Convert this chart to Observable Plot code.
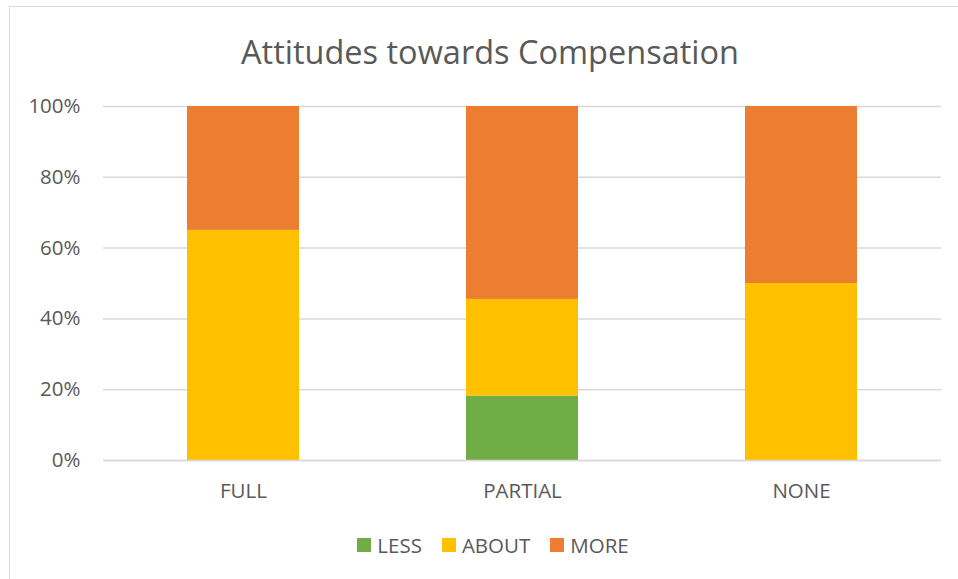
<!DOCTYPE html>
<html>
<head>
<meta charset="utf-8">
<script src="https://cdn.jsdelivr.net/npm/d3@7"></script>
<script src="https://cdn.jsdelivr.net/npm/@observablehq/plot@0.6"></script>
<style>
  html, body { margin: 0; padding: 0; background: #fff; }
  #chart {
    position: relative; width: 958px; height: 579px; overflow: hidden;
    font-family: "Open Sans", sans-serif; color: #595959;
  }
  #frame {
    position: absolute; left: 9px; top: 6px; width: 980px; height: 620px;
    border: 1.5px solid #d9d9d9; box-sizing: border-box;
  }
  #title {
    position: absolute; left: 0; width: 980px; top: 31px;
    text-align: center; font-size: 32.5px; line-height: 42px; color: #595959;
  }
  #plot { position: absolute; left: 0; top: 0; }
  #legend {
    position: absolute; left: 0; width: 986px; top: 532px;
    display: flex; justify-content: center; align-items: center;
    font-size: 20.5px; line-height: 26px;
  }
  .item { display: flex; align-items: center; margin: 0 10px; }
  .swatch { width: 14px; height: 14px; margin-right: 6px; }
</style>
</head>
<body>
<div id="chart">
  <div id="frame"></div>
  <div id="title">Attitudes towards Compensation</div>
  <div id="plot"></div>
  <div id="legend"></div>
</div>
<script>
// Share of responses per compensation type, in percent
const categories = ["FULL", "PARTIAL", "NONE"];
const series = ["LESS", "ABOUT", "MORE"];
const less  = [0, 18.2, 0];
const about = [65, 27.3, 50];
const more  = [35, 54.5, 50];
const colors = ["#70AD47", "#FFC000", "#ED7D31"];
const yTicks = [0, 20, 40, 60, 80, 100];

const values = {LESS: less, ABOUT: about, MORE: more};
const data = series.flatMap(s => categories.map((c, i) => ({category: c, series: s, value: values[s][i]})));

const plot = Plot.plot({
  width: 958,
  height: 520,
  marginLeft: 103,
  marginRight: 17,
  marginTop: 106,
  marginBottom: 60,
  style: {fontFamily: "Open Sans, sans-serif", fontSize: "20.5px", color: "#595959", background: "transparent"},
  x: {domain: categories, paddingInner: 0.6, paddingOuter: 0.3, label: null, tickSize: 0, tickPadding: 23},
  y: {domain: [0, 100], ticks: yTicks, tickFormat: d => d + "%", label: null, tickSize: 0, tickPadding: 23},
  color: {domain: series, range: colors},
  marks: [
    Plot.gridY(yTicks, {stroke: "#d9d9d9", strokeOpacity: 1, strokeWidth: 1.5}),
    Plot.barY(data, {x: "category", y: "value", fill: "series", order: series}),
    Plot.ruleY([0], {stroke: "#d9d9d9", strokeWidth: 1.5})
  ]
});
document.getElementById("plot").appendChild(plot);

const legend = document.getElementById("legend");
series.forEach((s, i) => {
  const item = document.createElement("div");
  item.className = "item";
  const sw = document.createElement("span");
  sw.className = "swatch";
  sw.style.background = colors[i];
  const label = document.createElement("span");
  label.textContent = s;
  item.append(sw, label);
  legend.appendChild(item);
});
</script>
</body>
</html>
